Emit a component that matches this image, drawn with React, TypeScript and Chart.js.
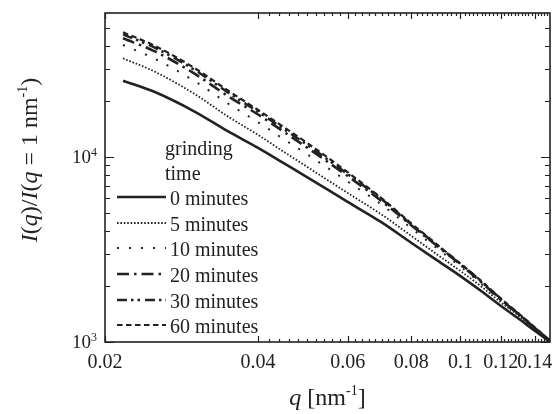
import { useEffect, useRef } from 'react';
import { Chart, registerables } from 'chart.js';

Chart.register(...registerables);

// q values [nm^-1]
const Q = [0.0217, 0.025, 0.03, 0.035, 0.04, 0.045, 0.05, 0.06, 0.07, 0.08, 0.09, 0.1, 0.11, 0.12, 0.13, 0.14, 0.15];

const MIN_0 = [25800, 22500, 17600, 13700, 11200, 9230, 7760, 5720, 4430, 3440, 2760, 2270, 1880, 1570, 1340, 1150, 1000];
const MIN_5 = [34100, 29000, 21900, 16470, 13160, 10640, 8830, 6390, 4880, 3750, 2970, 2420, 1990, 1640, 1390, 1180, 1010];
const MIN_10 = [40300, 34060, 25730, 19360, 15390, 12450, 10320, 7370, 5520, 4130, 3200, 2560, 2060, 1680, 1400, 1180, 1010];
const MIN_20 = [43800, 37350, 28210, 21220, 16960, 13650, 11210, 7890, 5770, 4280, 3300, 2620, 2100, 1700, 1420, 1190, 1010];
const MIN_30 = [45980, 39100, 29550, 22220, 17550, 14130, 11610, 8080, 5910, 4330, 3330, 2640, 2120, 1710, 1420, 1190, 1020];
const MIN_60 = [47160, 40010, 30240, 22740, 17950, 14460, 11880, 8270, 5980, 4380, 3360, 2650, 2130, 1720, 1430, 1200, 1020];

const SERIES_LABELS = ['0 minutes', '5 minutes', '10 minutes', '20 minutes', '30 minutes', '60 minutes'];
const LEGEND_TITLE = ['grinding', 'time'];

const X_MAJOR = [0.02, 0.04, 0.06, 0.08, 0.1, 0.12, 0.14];
const X_MAJOR_LABELS = ['0.02', '0.04', '0.06', '0.08', '0.1', '0.12', '0.14'];
const Y_MAJOR = [1000, 10000];
const Y_MAJOR_EXP = ['3', '4'];
const Y_MINOR = [2000, 3000, 4000, 5000, 6000, 7000, 8000, 9000, 20000, 30000, 40000, 50000];

const X_MIN = 0.02;
const X_MAX = 0.15;
const Y_MIN = 1000;
const Y_MAX = 60000;

const INK = '#222';
const FONT = '"Liberation Serif", "Times New Roman", serif';

const STYLES = [
  { dash: [] as number[], width: 2.6 },
  { dash: [1.6, 1.8], width: 1.8 },
  { dash: [2, 10], width: 2 },
  { dash: [12, 5, 2.5, 5], width: 2.6 },
  { dash: [10, 4, 2.5, 4, 2.5, 5], width: 2.6 },
  { dash: [5.5, 3.5], width: 2.2 },
];

const SERIES = [MIN_0, MIN_5, MIN_10, MIN_20, MIN_30, MIN_60];

const decorPlugin = {
  id: 'decor',
  afterDraw(chart: any) {
    const ctx: CanvasRenderingContext2D = chart.ctx;
    const { left, right, top, bottom } = chart.chartArea;
    const xs = chart.scales.x;
    const ys = chart.scales.y;
    ctx.save();
    ctx.strokeStyle = INK;
    ctx.fillStyle = INK;
    ctx.setLineDash([]);

    // frame
    ctx.lineWidth = 1.6;
    ctx.strokeRect(left, top, right - left, bottom - top);

    // x ticks (inward, top and bottom)
    ctx.lineWidth = 1.2;
    const majSet = X_MAJOR.map((v) => Math.round(v * 1000));
    for (let k = 21; k < 75; k++) {
      const v = k * 0.002;
      if (v >= X_MAX) break;
      const isMaj = majSet.includes(Math.round(v * 1000));
      if (isMaj) continue;
      const px = Math.round(xs.getPixelForValue(v)) + 0.5;
      ctx.beginPath();
      ctx.moveTo(px, bottom);
      ctx.lineTo(px, bottom - 3);
      ctx.moveTo(px, top);
      ctx.lineTo(px, top + 3);
      ctx.stroke();
    }
    X_MAJOR.forEach((v) => {
      const px = Math.round(xs.getPixelForValue(v)) + 0.5;
      ctx.beginPath();
      ctx.moveTo(px, bottom);
      ctx.lineTo(px, bottom - 6);
      ctx.moveTo(px, top);
      ctx.lineTo(px, top + 6);
      ctx.stroke();
    });
    // y ticks (inward, left and right)
    Y_MINOR.forEach((v) => {
      const py = Math.round(ys.getPixelForValue(v)) + 0.5;
      ctx.beginPath();
      ctx.moveTo(left, py);
      ctx.lineTo(left + 5, py);
      ctx.moveTo(right, py);
      ctx.lineTo(right - 5, py);
      ctx.stroke();
    });
    Y_MAJOR.forEach((v) => {
      const py = Math.round(ys.getPixelForValue(v)) + 0.5;
      ctx.beginPath();
      ctx.moveTo(left, py);
      ctx.lineTo(left + 9, py);
      ctx.moveTo(right, py);
      ctx.lineTo(right - 9, py);
      ctx.stroke();
    });

    // x tick labels
    ctx.font = `20px ${FONT}`;
    ctx.textAlign = 'center';
    ctx.textBaseline = 'alphabetic';
    X_MAJOR.forEach((v, i) => {
      const px = xs.getPixelForValue(v);
      ctx.fillText(X_MAJOR_LABELS[i], px, bottom + 26);
    });

    // y tick labels 10^n
    Y_MAJOR.forEach((v, i) => {
      const py = ys.getPixelForValue(v);
      ctx.font = `12px ${FONT}`;
      ctx.textAlign = 'right';
      const supW = ctx.measureText(Y_MAJOR_EXP[i]).width;
      const supX = left - 8;
      ctx.fillText(Y_MAJOR_EXP[i], supX, py - 1);
      ctx.font = `19px ${FONT}`;
      ctx.fillText('10', supX - supW, py + 6);
    });

    // x axis title: q [nm^-1]
    {
      const cx = (left + right) / 2;
      const base = bottom + 63;
      const parts = [
        { t: 'q', f: `italic 24px ${FONT}`, dy: 0 },
        { t: ' [nm', f: `24px ${FONT}`, dy: 0 },
        { t: '-1', f: `14px ${FONT}`, dy: -10 },
        { t: ']', f: `24px ${FONT}`, dy: 0 },
      ];
      let total = 0;
      parts.forEach((p) => {
        ctx.font = p.f;
        total += ctx.measureText(p.t).width;
      });
      let x = cx - total / 2;
      ctx.textAlign = 'left';
      parts.forEach((p) => {
        ctx.font = p.f;
        ctx.fillText(p.t, x, base + p.dy);
        x += ctx.measureText(p.t).width;
      });
    }

    // y axis title: I(q)/I(q = 1 nm^-1)
    {
      const parts = [
        { t: 'I', f: `italic 24px ${FONT}`, dy: 0 },
        { t: '(', f: `24px ${FONT}`, dy: 0 },
        { t: 'q', f: `italic 24px ${FONT}`, dy: 0 },
        { t: ')/', f: `24px ${FONT}`, dy: 0 },
        { t: 'I', f: `italic 24px ${FONT}`, dy: 0 },
        { t: '(', f: `24px ${FONT}`, dy: 0 },
        { t: 'q', f: `italic 24px ${FONT}`, dy: 0 },
        { t: ' = 1 nm', f: `24px ${FONT}`, dy: 0 },
        { t: '-1', f: `14px ${FONT}`, dy: -10 },
        { t: ')', f: `24px ${FONT}`, dy: 0 },
      ];
      let total = 0;
      parts.forEach((p) => {
        ctx.font = p.f;
        total += ctx.measureText(p.t).width;
      });
      ctx.save();
      ctx.translate(37, 160);
      ctx.rotate(-Math.PI / 2);
      let x = -total / 2;
      ctx.textAlign = 'left';
      parts.forEach((p) => {
        ctx.font = p.f;
        ctx.fillText(p.t, x, p.dy);
        x += ctx.measureText(p.t).width;
      });
      ctx.restore();
    }

    // legend
    ctx.font = `20px ${FONT}`;
    ctx.textAlign = 'left';
    ctx.fillText(LEGEND_TITLE[0], 165, 155);
    ctx.fillText(LEGEND_TITLE[1], 165, 180);
    const rowY = [197, 223, 248, 274, 300, 325];
    SERIES_LABELS.forEach((lab, i) => {
      const y = rowY[i];
      ctx.save();
      ctx.lineWidth = STYLES[i].width;
      ctx.setLineDash(STYLES[i].dash);
      ctx.beginPath();
      ctx.moveTo(117, y);
      ctx.lineTo(166, y);
      ctx.stroke();
      ctx.restore();
      ctx.fillText(lab, 170, y + 8);
    });

    ctx.restore();
  },
};

export default function App() {
  const ref = useRef<HTMLCanvasElement | null>(null);
  useEffect(() => {
    if (!ref.current) return;
    const chart = new Chart(ref.current, {
      type: 'line',
      data: {
        datasets: SERIES.map((vals, i) => ({
          label: SERIES_LABELS[i],
          data: Q.map((q, j) => ({ x: q, y: vals[j] })),
          borderColor: INK,
          borderWidth: STYLES[i].width,
          borderDash: STYLES[i].dash,
          pointRadius: 0,
          fill: false,
          cubicInterpolationMode: 'monotone' as const,
        })),
      },
      options: {
        animation: false,
        responsive: false,
        devicePixelRatio: 1,
        layout: { padding: { left: 105, top: 13, right: 5, bottom: 72 } },
        plugins: { legend: { display: false }, tooltip: { enabled: false } },
        scales: {
          x: { type: 'logarithmic', min: X_MIN, max: X_MAX, display: false },
          y: { type: 'logarithmic', min: Y_MIN, max: Y_MAX, display: false },
        },
      },
      plugins: [decorPlugin],
    });
    return () => chart.destroy();
  }, []);
  return (
    <div style={{ position: 'fixed', left: 0, top: 0, width: 555, height: 414, background: '#fff' }}>
      <canvas ref={ref} width={555} height={414} style={{ display: 'block', width: 555, height: 414 }} />
    </div>
  );
}
